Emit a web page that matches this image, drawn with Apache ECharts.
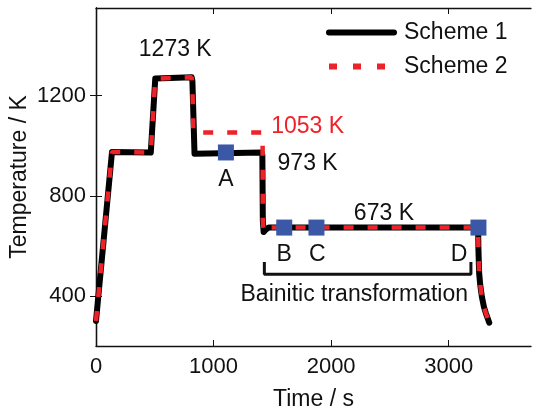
<!DOCTYPE html>
<html>
<head>
<meta charset="utf-8">
<script src="https://cdn.jsdelivr.net/npm/echarts@6/dist/echarts.min.js"></script>
<style>
  html, body { margin: 0; padding: 0; background: #fff; }
  #chart { width: 534px; height: 411px; }
</style>
</head>
<body>
<div id="chart"></div>
<script>
// heat treatment routes, time (s) / temperature (K)
const scheme1Time = [0, 136, 142, 466, 504, 510, 814, 820, 838, 846, 1408, 1415, 1419, 1426, 1442, 1470, 3250, 3253, 3259, 3268, 3282, 3300, 3316, 3345];
const scheme1Temp = [300, 975, 973, 973, 1268, 1273, 1273, 1258, 968, 973, 973, 962, 700, 655, 664, 673, 673, 584, 491, 445, 397, 355, 331, 293];
const scheme2Time = [0, 136, 142, 466, 504, 510, 814, 820, 828, 1410, 1417, 1419, 1426, 1442, 1470, 3250, 3253, 3259, 3268, 3282, 3300, 3316, 3345];
const scheme2Temp = [300, 975, 973, 973, 1268, 1273, 1273, 1240, 1053, 1053, 1035, 700, 655, 664, 673, 673, 584, 491, 445, 397, 355, 331, 293];

// sampling points A-D
const pointNames = ['A', 'B', 'C', 'D'];
const pointTime = [1105, 1601, 1875, 3253];
const pointTemp = [973, 673, 673, 673];

// text annotations
const noteText = ['1273 K', '1053 K', '973 K', '673 K', 'A', 'B', 'C', 'D', 'Bainitic transformation'];
const noteTime = [674, 1800, 1800, 2449, 1105, 1601, 1882, 3089, 2197];
const noteTemp = [1385, 1075, 928, 728, 864, 565, 565, 565, 405];
const noteColor = ['#111', '#ee2229', '#111', '#111', '#111', '#111', '#111', '#111', '#111'];

// bracket under B..D
const bracketTime = [1432, 1432, 3189, 3189];
const bracketTemp = [536, 487, 487, 536];

const xTicks = [0, 1000, 2000, 3000];
const yTicks = [400, 800, 1200];

const font = "'Liberation Sans', Arial, sans-serif";
const zip = (a, b) => a.map((v, i) => [v, b[i]]);

const chart = echarts.init(document.getElementById('chart'));

const axisLine = { lineStyle: { color: '#111', width: 1.3 } };
const noSymbol = { color: 'rgba(0,0,0,0)', borderWidth: 0, opacity: 0 };

chart.setOption({
  animation: false,
  textStyle: { fontFamily: font },
  grid: { left: 96, right: 3, top: 8, bottom: 65, containLabel: false, outerBoundsMode: 'none' },
  legend: {
    data: [
      { name: 'Scheme 1', lineStyle: { width: 6 }, itemStyle: noSymbol },
      { name: 'Scheme 2', lineStyle: { width: 6, type: [8, 16] }, itemStyle: noSymbol },
    ],
    orient: 'vertical',
    left: 321,
    top: 16,
    itemWidth: 65,
    itemHeight: 14,
    itemGap: 11,
    textStyle: { fontSize: 23, color: '#111', padding: [0, 0, 0, 5], fontFamily: font },
  },
  xAxis: [
    {
      type: 'value',
      min: 0,
      max: 3700,
      name: 'Time / s',
      nameLocation: 'middle',
      nameGap: 42,
      nameMoveOverlap: false,
      nameTextStyle: { fontSize: 23, color: '#111' },
      axisLine: axisLine,
      axisTick: { inside: true, length: 6, lineStyle: { color: '#111' }, customValues: xTicks },
      axisLabel: { fontSize: 22, color: '#111', margin: 10, customValues: xTicks, formatter: (v) => String(v) },
      splitLine: { show: false },
    },
    {
      type: 'value',
      position: 'top',
      min: 0,
      max: 3700,
      axisLine: axisLine,
      axisTick: { inside: true, length: 6, lineStyle: { color: '#111' }, customValues: xTicks },
      axisLabel: { show: false },
      splitLine: { show: false },
    },
  ],
  yAxis: [
    {
      type: 'value',
      min: 200,
      max: 1550,
      name: 'Temperature / K',
      nameLocation: 'middle',
      nameGap: 65,
      nameMoveOverlap: false,
      nameTextStyle: { fontSize: 23, color: '#111' },
      axisLine: axisLine,
      axisTick: { inside: true, length: 6, lineStyle: { color: '#111' }, customValues: yTicks },
      axisLabel: { fontSize: 22, color: '#111', margin: 10, customValues: yTicks, formatter: (v) => String(v) },
      splitLine: { show: false },
    },
    {
      type: 'value',
      position: 'right',
      min: 200,
      max: 1550,
      axisLine: axisLine,
      axisTick: { inside: true, length: 6, lineStyle: { color: '#111' }, customValues: yTicks },
      axisLabel: { show: false },
      splitLine: { show: false },
    },
  ],
  series: [
    {
      name: 'Scheme 1',
      type: 'line',
      symbol: 'none',
      data: zip(scheme1Time, scheme1Temp),
      lineStyle: { color: '#000', width: 6, cap: 'round', join: 'round' },
      itemStyle: { color: '#000' },
      z: 2,
    },
    {
      name: 'Scheme 2',
      type: 'line',
      symbol: 'none',
      data: zip(scheme2Time, scheme2Temp),
      lineStyle: { color: '#ee2229', width: 4.5, type: [10, 14] },
      itemStyle: { color: '#ee2229' },
      z: 3,
    },
    {
      name: 'bracket',
      type: 'line',
      symbol: 'none',
      data: zip(bracketTime, bracketTemp),
      lineStyle: { color: '#111', width: 3 },
      z: 2,
    },
    {
      name: 'points',
      type: 'scatter',
      symbol: 'rect',
      symbolSize: 16,
      data: zip(pointTime, pointTemp),
      itemStyle: { color: '#3b58a7', opacity: 1 },
      z: 4,
    },
    {
      name: 'notes',
      type: 'scatter',
      symbolSize: 0,
      silent: true,
      itemStyle: { opacity: 1 },
      data: noteText.map((t, i) => ({
        value: [noteTime[i], noteTemp[i]],
        label: {
          show: true,
          position: 'inside',
          formatter: t,
          fontSize: 23,
          color: noteColor[i],
          fontFamily: font,
        },
      })),
      z: 5,
    },
  ],
});
</script>
</body>
</html>
